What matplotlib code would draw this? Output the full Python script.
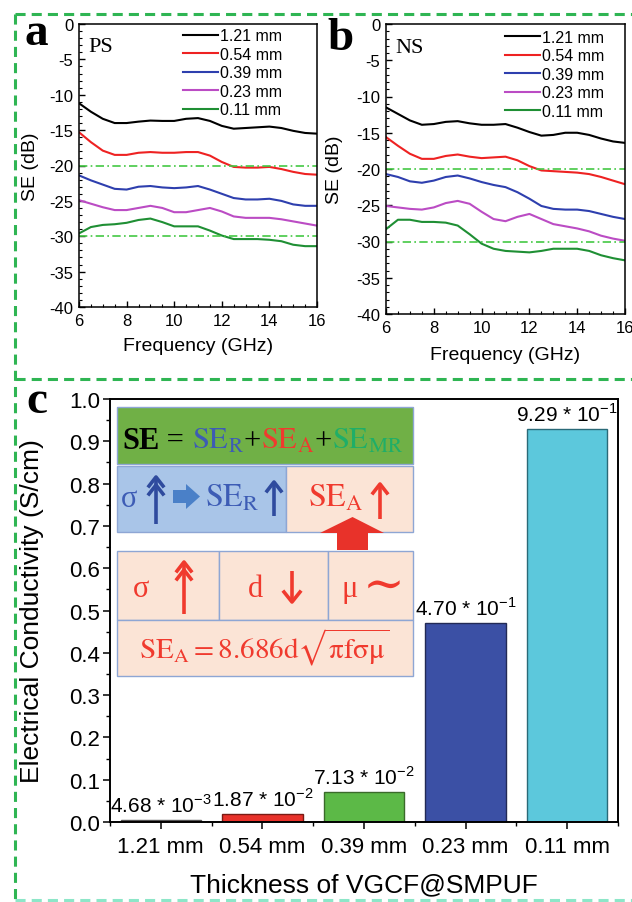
import matplotlib
matplotlib.use("Agg")
import matplotlib.pyplot as plt
from matplotlib.patches import Rectangle, Polygon
from matplotlib.ticker import MultipleLocator

plt.rcParams['font.family'] = ['Liberation Sans', 'DejaVu Sans']
plt.rcParams['mathtext.fontset'] = 'custom'
plt.rcParams['mathtext.rm'] = 'Liberation Sans'

# ---- data ----
freq = [6, 6.5, 7, 7.5, 8, 8.5, 9, 9.5, 10, 10.5, 11, 11.5, 12, 12.5, 13, 13.5, 14, 14.5, 15, 15.5, 16]
labels_mm = ['1.21 mm', '0.54 mm', '0.39 mm', '0.23 mm', '0.11 mm']

ps_121 = [-11.2, -12.4, -13.4, -14.0, -14.0, -13.8, -13.65, -13.7, -13.7, -13.4, -13.3, -13.7, -14.4, -14.8, -14.7, -14.6, -14.5, -14.7, -15.1, -15.4, -15.5]
ps_054 = [-15.3, -16.7, -17.9, -18.5, -18.5, -18.2, -18.1, -18.2, -18.2, -18.1, -18.1, -18.6, -19.5, -20.2, -20.3, -20.3, -20.2, -20.5, -20.9, -21.2, -21.3]
ps_039 = [-21.4, -22.1, -22.7, -23.3, -23.4, -23.0, -22.9, -23.1, -23.2, -23.1, -22.9, -23.4, -24.0, -24.6, -24.8, -24.8, -24.7, -25.0, -25.5, -25.7, -25.7]
ps_023 = [-24.9, -25.4, -25.9, -26.3, -26.3, -26.0, -25.7, -26.0, -26.6, -26.6, -26.3, -26.0, -26.5, -27.2, -27.4, -27.4, -27.4, -27.6, -27.9, -28.2, -28.5]
ps_011 = [-29.6, -28.7, -28.4, -28.3, -28.1, -27.7, -27.5, -28.0, -28.6, -28.6, -28.6, -29.2, -29.9, -30.4, -30.4, -30.4, -30.5, -30.7, -31.2, -31.4, -31.4]

ns_121 = [-11.5, -12.4, -13.3, -13.9, -13.8, -13.5, -13.4, -13.7, -13.9, -13.9, -13.8, -14.3, -14.9, -15.4, -15.3, -15.0, -15.0, -15.3, -15.8, -16.2, -16.4]
ns_054 = [-15.6, -16.8, -17.9, -18.6, -18.6, -18.2, -18.0, -18.3, -18.5, -18.4, -18.3, -18.8, -19.6, -20.2, -20.3, -20.4, -20.5, -20.7, -21.1, -21.6, -22.1]
ns_039 = [-20.7, -21.1, -21.7, -21.9, -21.6, -21.1, -20.9, -21.3, -21.8, -22.2, -22.5, -23.2, -24.1, -25.1, -25.5, -25.6, -25.6, -25.8, -26.2, -26.6, -26.9]
ns_023 = [-25.1, -25.3, -25.5, -25.6, -25.3, -24.7, -24.4, -24.8, -25.9, -26.9, -27.2, -26.6, -26.2, -26.9, -27.6, -27.9, -28.2, -28.6, -29.2, -29.6, -29.9]
ns_011 = [-28.3, -27.0, -27.0, -27.3, -27.3, -27.4, -27.8, -29.0, -30.3, -31.0, -31.3, -31.4, -31.5, -31.3, -31.0, -31.0, -31.0, -31.3, -31.9, -32.3, -32.6]

ref_levels = [-20, -30]

conductivity = [4.68e-3, 1.87e-2, 7.13e-2, 4.70e-1, 9.29e-1]
cond_labels = ['4.68 * 10$^{\\mathregular{-3}}$', '1.87 * 10$^{\\mathregular{-2}}$',
               '7.13 * 10$^{\\mathregular{-2}}$', '4.70 * 10$^{\\mathregular{-1}}$',
               '9.29 * 10$^{\\mathregular{-1}}$']

line_colors = ['black', '#ee2222', '#2e3fae', '#bb4cc4', '#1f8f34']
bar_colors = ['#e8312a', '#e8312a', '#5cb947', '#3b50a5', '#5cc8dc']
bar_edges = ['#555555', '#7a1a14', '#3a6a2a', '#222a55', '#2a6a78']

W, H = 632, 903
fig = plt.figure(figsize=(W / 100, H / 100), dpi=100)


def px_axes(left, top, right, bottom):
    return fig.add_axes([left / W, 1 - bottom / H, (right - left) / W, (bottom - top) / H])


def se_panel(ax, series, tag, legend_x, legend_y, xlab_y, ylab_x):
    for ys, c, lab in zip(series, line_colors, labels_mm):
        ax.plot(freq, ys, color=c, lw=1.5, label=lab)
    for lv in ref_levels:
        ax.axhline(lv, color='#44c844', lw=1.2, ls=(0, (5, 2, 1, 2)))
    ax.set_xlim(6, 16)
    ax.set_ylim(-40, 0)
    ax.xaxis.set_major_locator(MultipleLocator(2))
    ax.xaxis.set_minor_locator(MultipleLocator(0.5))
    ax.yaxis.set_major_locator(MultipleLocator(5))
    ax.yaxis.set_minor_locator(MultipleLocator(1))
    ax.tick_params(which='both', direction='in', labelsize=12, pad=4)
    ax.tick_params(which='major', length=4, width=1)
    ax.tick_params(which='minor', length=2.2, width=0.8)
    ax.tick_params(top=False, right=False)
    ax.set_xticks([6, 8, 10, 12, 14, 16], ['6', '8', '10', '12', '14', '16'])
    ax.set_yticks(range(-40, 1, 5), [str(v) for v in range(-40, 1, 5)])
    for s in ax.spines.values():
        s.set_linewidth(1.1)
    ax.set_xlabel('Frequency (GHz)', fontsize=14)
    ax.set_ylabel('SE (dB)', fontsize=14)
    ax.xaxis.set_label_coords(0.5, xlab_y)
    ax.yaxis.set_label_coords(ylab_x, 0.5)
    ax.text(0.04, 0.92, tag, transform=ax.transAxes, fontsize=16,
            family=['Liberation Serif', 'DejaVu Serif'], va='center')
    ax.legend(loc='upper left', bbox_to_anchor=(legend_x, legend_y), frameon=False,
              fontsize=11.5, handlelength=2.2, handletextpad=0.1, labelspacing=0.22,
              borderpad=0, borderaxespad=0)


ax_a = px_axes(79, 25, 317, 308)
se_panel(ax_a, [ps_121, ps_054, ps_039, ps_023, ps_011], 'PS', 0.437, 0.985, -0.105, -0.17)
ax_b = px_axes(386, 25, 625, 315)
se_panel(ax_b, [ns_121, ns_054, ns_039, ns_023, ns_011], 'NS', 0.498, 0.98, -0.11, -0.18)

# ---- panel c ----
ax_c = px_axes(110, 400, 618, 823)
xpos = range(len(conductivity))
ax_c.bar(xpos, conductivity, width=0.79, color=bar_colors, edgecolor=bar_edges, linewidth=1)
for xi, v, lab in zip(xpos, conductivity, cond_labels):
    ax_c.annotate(lab, (xi, v), xytext=(0, 3), textcoords='offset points',
                  ha='center', va='bottom', fontsize=15)
ax_c.set_xlim(-0.5, 4.5)
ax_c.set_ylim(0, 1.0)
ax_c.set_xticks(list(xpos), labels_mm)
ax_c.xaxis.set_minor_locator(MultipleLocator(1, offset=0.5))
ax_c.yaxis.set_major_locator(MultipleLocator(0.1))
ax_c.yaxis.set_minor_locator(MultipleLocator(0.05))
ax_c.set_yticks([i / 10 for i in range(11)], [f'{i / 10:.1f}' for i in range(11)])
ax_c.tick_params(which='both', direction='out', labelsize=16)
ax_c.tick_params(axis='y', which='major', length=5, width=1.1, pad=2)
ax_c.tick_params(axis='x', which='major', length=5, width=1.1, pad=5)
ax_c.tick_params(which='minor', length=3, width=1)
for s in ax_c.spines.values():
    s.set_linewidth(1.4)
ax_c.set_xlabel('Thickness of VGCF@SMPUF', fontsize=19)
ax_c.set_ylabel('Electrical Conductivity (S/cm)', fontsize=19)
ax_c.xaxis.set_label_coords(0.5, -0.12)
ax_c.yaxis.set_label_coords(-0.13, 0.5)

# ---- overlay in pixel coordinates: frames, panel letters, mechanism sketch ----
ov = fig.add_axes([0, 0, 1, 1])
ov.set_xlim(0, W)
ov.set_ylim(H, 0)
ov.axis('off')

dash = dict(color='#2fb553', lw=2.2, ls=(0, (3.3, 2)))
ov.plot([15, W], [15, 15], **dash)
ov.plot([15, W], [380, 380], **dash)
ov.plot([15, 15], [15, 902], **dash)
ov.plot([15, W], [901, 901], color='#8de6c8', lw=2.2, ls=(0, (3.3, 2)))

serif = ['Liberation Serif', 'DejaVu Serif']
for letter, x, y in [('a', 24, 45), ('b', 327, 50), ('c', 26, 413)]:
    ov.text(x, y, letter, fontsize=34, fontweight='bold', family=serif, va='baseline')

edge = '#8ea6d4'
boxes = [(117, 408, 413, 465, '#70b046'),
         (117, 467, 286, 533, '#a9c5e8'),
         (286, 467, 413, 533, '#fbe4d6'),
         (117, 552, 219, 621, '#fbe4d6'),
         (219, 552, 328, 621, '#fbe4d6'),
         (328, 552, 413, 621, '#fbe4d6'),
         (117, 621, 413, 677, '#fbe4d6')]
for x0, y0, x1, y1, fc in boxes:
    ov.add_patch(Rectangle((x0, y0), x1 - x0, y1 - y0, facecolor=fc, edgecolor=edge, lw=1))

blue_t = '#3d5cb5'
red_t = '#f03a2e'
green_t = '#1fae68'
renderer = fig.canvas.get_renderer()


def text_row(x, y, parts, size):
    for s, c, w in parts:
        t = ov.text(x, y, s, color=c, fontsize=size, fontweight=w, family=serif,
                    math_fontfamily='stix', va='baseline', ha='left')
        x += t.get_window_extent(renderer).width


def up_arrow(x, top, bottom, color, double=False, hw=7, hh=9):
    ov.plot([x, x], [top + 1, bottom], color=color, lw=2.6, solid_capstyle='butt')
    heads = [top, top + 8] if double else [top]
    for ht in heads:
        ov.plot([x - hw, x, x + hw], [ht + hh, ht, ht + hh], color=color, lw=2.6)


def down_arrow(x, top, bottom, color, hw=8, hh=10):
    ov.plot([x, x], [top, bottom - 1], color=color, lw=2.6, solid_capstyle='butt')
    ov.plot([x - hw, x, x + hw], [bottom - hh, bottom, bottom - hh], color=color, lw=2.6)


text_row(122, 449, [('SE', 'black', 'bold'), (' = ', 'black', 'normal'),
                    (r'$\mathrm{SE_R}$', blue_t, 'normal'), ('+', 'black', 'normal'),
                    (r'$\mathrm{SE_A}$', red_t, 'normal'), ('+', 'black', 'normal'),
                    (r'$\mathrm{SE_{MR}}$', green_t, 'normal')], 22)

# blue cell
ov.text(121, 507, '\u03c3', color=blue_t, fontsize=22, family=serif, va='baseline')
up_arrow(156, 478, 525, '#2f4b9e', double=True)
ov.add_patch(Polygon([(173, 491), (186, 491), (186, 485), (200, 497.5), (186, 510),
                      (186, 504), (173, 504)], closed=True, facecolor='#4a80c8', edgecolor='none'))
text_row(205, 507, [(r'$\mathrm{SE_R}$', blue_t, 'normal')], 23)
up_arrow(274, 483, 517, '#2f4b9e')

# upper peach cell
text_row(308, 507, [(r'$\mathrm{SE_A}$', red_t, 'normal')], 23)
up_arrow(380, 485, 520, red_t)

# big red arrow between cells
ov.add_patch(Polygon([(337, 551), (337, 534), (320, 534), (352.5, 518), (384, 534),
                      (368, 534), (368, 551)], closed=True, facecolor='#e8322a', edgecolor='none'))

# lower cells
ov.text(133, 597, '\u03c3', color=red_t, fontsize=22, family=serif, va='baseline')
up_arrow(184, 563, 615, red_t, double=True)
ov.text(248, 597, 'd', color=red_t, fontsize=22, family=serif, va='baseline')
down_arrow(292, 572, 603, red_t)
ov.text(342, 597, '\u03bc', color=red_t, fontsize=22, family=serif, va='baseline')
ov.text(384, 588, '\u223c', color=red_t, fontsize=36, family=serif, va='center', ha='center')

ov.text(264, 658, r'$\mathrm{SE_A = 8.686d}\sqrt{\mathrm{\pi f\sigma\mu}}$', color=red_t,
        fontsize=21, math_fontfamily='stix', ha='center', va='baseline')

fig.savefig('out.png', dpi=100)
